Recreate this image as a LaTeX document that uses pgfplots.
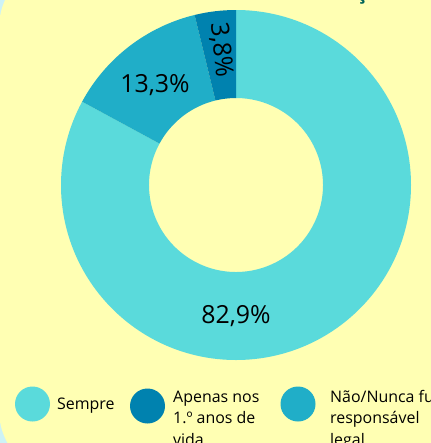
\documentclass[border=0pt]{standalone}
\usepackage{pgfplots}
\pgfplotsset{compat=1.18}
\usepackage{pgfplotstable}
\usepackage{fontspec}
\setmainfont{Open Sans}
\definecolor{cSempre}{RGB}{90,218,219}
\definecolor{cApenas}{RGB}{0,130,175}
\definecolor{cNao}{RGB}{32,174,200}
\definecolor{bgY}{RGB}{255,255,179}
\definecolor{bgC}{RGB}{205,242,246}
\definecolor{titleTeal}{RGB}{0,100,90}

\pgfplotstableread{
label value
Sempre 82.9
Nao 13.3
Apenas 3.8
}\datatable

\begin{document}
\begin{tikzpicture}
\useasboundingbox (0,0) rectangle (431bp,-443bp);
\clip (0,0) rectangle (431bp,-443bp);
\fill[bgC] (0,0) rectangle (431bp,-443bp);
\fill[bgY, rounded corners=68bp] (-1bp,40bp) rectangle (480bp,-478bp);
% clipped title remnant
\node[anchor=base, inner sep=0, font=\bfseries\fontsize{20}{24}\selectfont, text=titleTeal] at (362bp,0.5bp) {ç};

\pgfplotstablegetelem{0}{value}\of\datatable \let\vA\pgfplotsretval
\pgfplotstablegetelem{1}{value}\of\datatable \let\vB\pgfplotsretval
\pgfplotstablegetelem{2}{value}\of\datatable \let\vC\pgfplotsretval
\pgfmathsetmacro\aA{90}
\pgfmathsetmacro\aB{\aA-3.6*\vA}
\pgfmathsetmacro\aC{\aB-3.6*\vB}
\pgfmathsetmacro\aD{\aC-3.6*\vC}

\begin{axis}[at={(236bp,-185bp)}, anchor=center, scale only axis,
  width=350bp, height=350bp, xmin=-175, xmax=175, ymin=-175, ymax=175,
  hide axis, clip=false]
\fill[cSempre] ({175*cos(\aA)},{175*sin(\aA)}) arc[start angle=\aA, end angle=\aB, radius=175bp]
   -- ({87*cos(\aB)},{87*sin(\aB)}) arc[start angle=\aB, end angle=\aA, radius=87bp] -- cycle;
\fill[cNao] ({175*cos(\aB)},{175*sin(\aB)}) arc[start angle=\aB, end angle=\aC, radius=175bp]
   -- ({87*cos(\aC)},{87*sin(\aC)}) arc[start angle=\aC, end angle=\aB, radius=87bp] -- cycle;
\fill[cApenas] ({175*cos(\aC)},{175*sin(\aC)}) arc[start angle=\aC, end angle=\aD, radius=175bp]
   -- ({87*cos(\aD)},{87*sin(\aD)}) arc[start angle=\aD, end angle=\aC, radius=87bp] -- cycle;
\node[anchor=base, inner sep=0, font=\fontsize{25}{30}\selectfont] at (0,-138) {82,9\%};
\node[anchor=base, inner sep=0, font=\fontsize{25}{30}\selectfont] at (-81,93) {13,3\%};
\node[anchor=center, inner sep=0, rotate=-84, font=\fontsize{25}{30}\selectfont] at (-15,135) {3,8\%};
\end{axis}

% legend
\fill[cSempre] (32.5bp,-404bp) circle (17.5bp);
\fill[cApenas] (147.5bp,-406bp) circle (17.5bp);
\fill[cNao] (298bp,-404bp) circle (17.5bp);
\begin{scope}[every node/.style={anchor=base west, inner sep=0, font=\fontsize{16}{20}\selectfont}]
\node at (57bp,-409bp) {Sempre};
\node at (173bp,-402bp) {Apenas nos};
\node at (173bp,-423.5bp) {1.º anos de};
\node at (173bp,-445bp) {vida};
\node at (330bp,-402bp) {Não/Nunca fui};
\node at (330bp,-423.5bp) {responsável};
\node at (330bp,-445bp) {legal};
\end{scope}
\end{tikzpicture}
\end{document}
